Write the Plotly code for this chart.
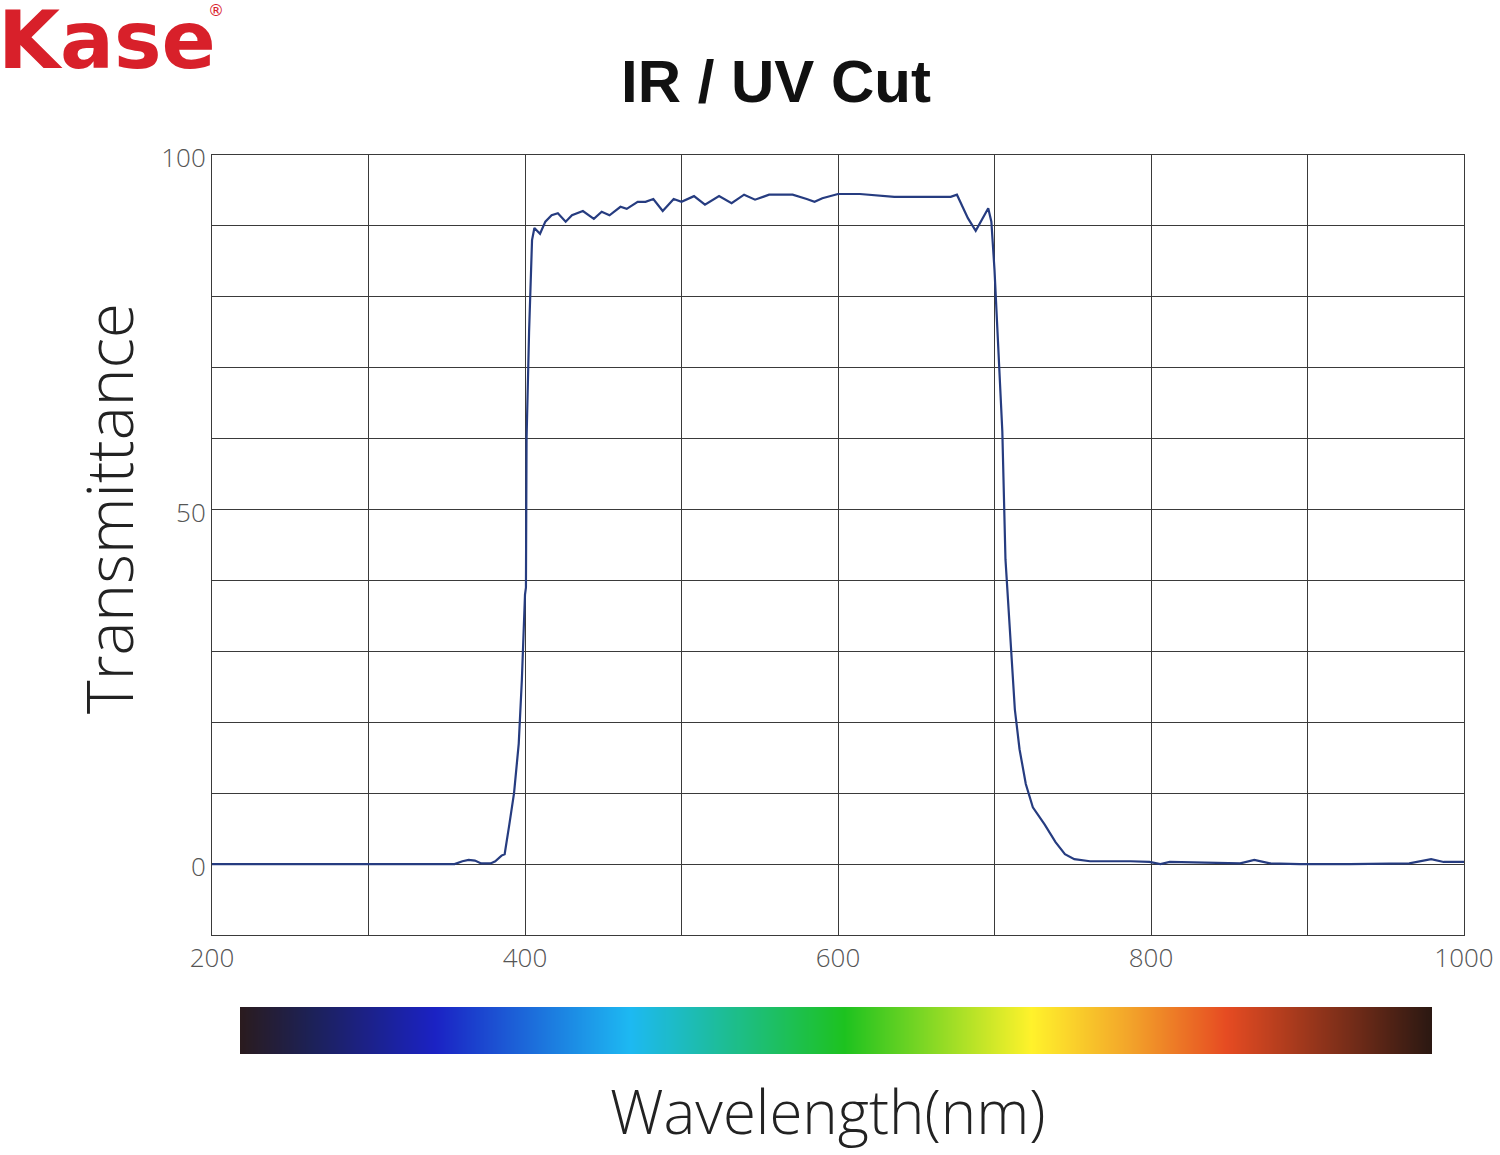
import plotly.graph_objects as go

# ---- data ----
wavelength = [200, 300, 355, 360, 364, 368, 372, 378, 381, 385, 387, 390, 393, 396, 398, 400, 400.6, 401, 402.6,
              404.5, 406, 409.6, 413, 417, 421, 426, 430, 437, 444, 449, 454, 461, 465, 472, 477, 482, 488,
              495, 500, 508, 515, 524, 532, 540, 547, 556, 571, 580, 585, 590, 600, 614, 636, 672, 676, 683,
              688, 696, 698, 700, 702, 705, 707, 710, 713, 716, 720, 724.5, 732, 739, 745, 751, 761, 787,
              799, 806, 812, 857, 866, 876, 895, 927, 965, 979, 987, 1000]
transmittance = [0, 0, 0, 0.4, 0.6, 0.5, 0.1, 0.1, 0.4, 1.2, 1.4, 5.6, 10, 17, 26, 38, 39, 60, 75,
                 88, 89.7, 88.9, 90.6, 91.5, 91.8, 90.6, 91.5, 92.1, 91.0, 92.0, 91.5, 92.7, 92.4, 93.4, 93.4, 93.8, 92.1,
                 93.8, 93.4, 94.2, 93.0, 94.2, 93.2, 94.4, 93.7, 94.4, 94.4, 93.8, 93.4, 93.9, 94.5, 94.5, 94.1, 94.1, 94.4, 91.1,
                 89.3, 92.5, 90.6, 83.8, 75, 61, 43, 31.7, 21.8, 16.2, 11.3, 8.0, 5.6, 3.1, 1.4, 0.7, 0.4, 0.4,
                 0.3, 0.0, 0.3, 0.1, 0.6, 0.1, 0.0, 0.0, 0.1, 0.7, 0.3, 0.3]

x_ticks = [200, 400, 600, 800, 1000]
y_ticks = [0, 50, 100]

spectrum_pos = [0.0, 0.06, 0.164, 0.327, 0.507, 0.664, 0.745, 0.827, 1.0]
spectrum_colors = ["#2a1b1e", "#1c2158", "#1b22c4", "#1db9f2", "#1dc21f", "#fff22b", "#f3a52a", "#e64b22", "#2a1812"]

W, H = 1500, 1155
LINE = "#263c80"
GRID = "#3a3a3a"
THIN = "Open Sans"

fig = go.Figure()
fig.add_trace(go.Scatter(x=wavelength, y=transmittance, mode="lines",
                         line=dict(color=LINE, width=2.2), showlegend=False,
                         hoverinfo="skip"))

fig.add_trace(go.Heatmap(x=spectrum_pos, y=[0], z=[spectrum_pos], xaxis="x2", yaxis="y2",
                         colorscale=[[p, c] for p, c in zip(spectrum_pos, spectrum_colors)],
                         zsmooth="best", showscale=False, hoverinfo="skip"))

fig.update_layout(
    width=W, height=H, autosize=False,
    margin=dict(l=0, r=0, t=0, b=0, pad=0, autoexpand=False),
    paper_bgcolor="white", plot_bgcolor="white",
    xaxis=dict(domain=[212 / W, 1464 / W], range=[200, 1000], tickvals=x_ticks,
               showgrid=True, gridcolor=GRID, gridwidth=1, automargin=False,
               minor=dict(dtick=100, showgrid=True, gridcolor=GRID, gridwidth=1),
               showline=True, linecolor=GRID, linewidth=1, mirror=True,
               ticks="", zeroline=False,
               tickfont=dict(family=THIN, size=26, color="#555555", weight=300)),
    yaxis=dict(domain=[1 - 935 / H, 1 - 155 / H], range=[-10, 100], tickvals=y_ticks,
               showgrid=True, gridcolor=GRID, gridwidth=1, automargin=False,
               minor=dict(dtick=10, showgrid=True, gridcolor=GRID, gridwidth=1),
               showline=True, linecolor=GRID, linewidth=1, mirror=True,
               ticks="", zeroline=False, ticklabelstandoff=0, ticklabelshift=3,
               tickfont=dict(family=THIN, size=26, color="#555555", weight=300)),
    xaxis2=dict(domain=[240 / W, 1432 / W], range=[0, 1], anchor="y2",
                visible=False, fixedrange=True, automargin=False),
    yaxis2=dict(domain=[1 - 1054 / H, 1 - 1007 / H], range=[-0.5, 0.5], anchor="x2",
                visible=False, fixedrange=True, automargin=False),
    annotations=[
        dict(text="IR / UV Cut", x=776 / W, y=1 - 82 / H, xref="paper", yref="paper",
             showarrow=False, xanchor="center", yanchor="middle",
             font=dict(family="Liberation Sans", size=60, color="#111111", weight="bold")),
        dict(text="Kase", x=-4 / W, y=1 - 40 / H, xref="paper", yref="paper",
             showarrow=False, xanchor="left", yanchor="middle",
             font=dict(family="DejaVu Sans", size=80, color="#d8202a", weight="bold")),
        dict(text="®", x=216 / W, y=1 - 10 / H, xref="paper", yref="paper",
             showarrow=False, xanchor="center", yanchor="middle",
             font=dict(family="DejaVu Sans", size=16, color="#d8202a")),
        dict(text="Transmittance", x=108 / W, y=1 - 508 / H, xref="paper", yref="paper",
             showarrow=False, xanchor="center", yanchor="middle", textangle=-90,
             font=dict(family=THIN, size=64, color="#222222", weight=300)),
        dict(text="Wavelength(nm)", x=828 / W, y=1 - 1111 / H, xref="paper", yref="paper",
             showarrow=False, xanchor="center", yanchor="middle",
             font=dict(family=THIN, size=60, color="#222222", weight=300)),
    ],
)

fig.write_html("out.html")
